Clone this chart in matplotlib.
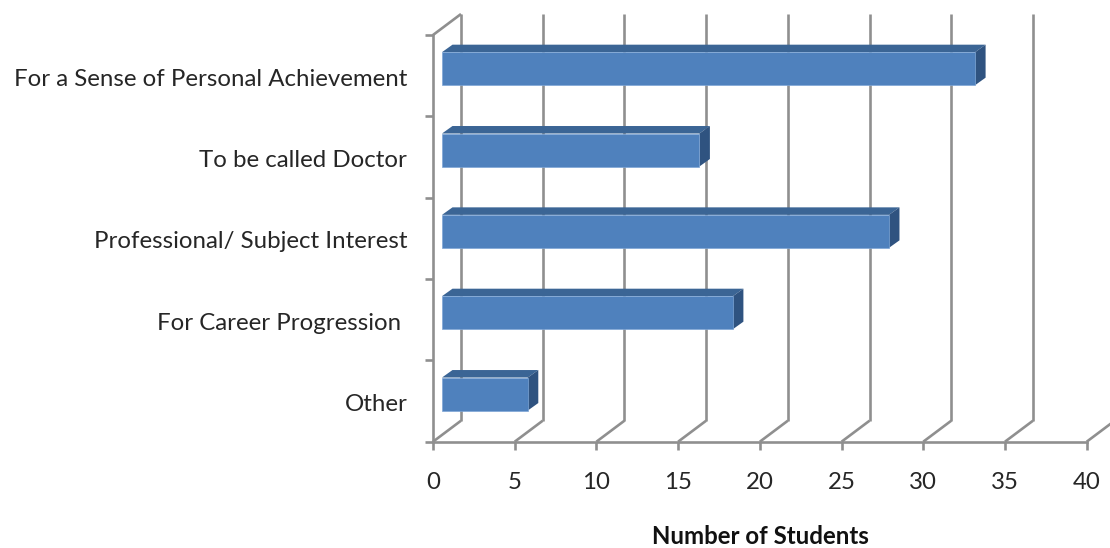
import matplotlib
matplotlib.use("Agg")
import matplotlib.pyplot as plt
from matplotlib.patches import Polygon
from matplotlib.transforms import ScaledTranslation

categories = ["Other", "For Career Progression ", "Professional/ Subject Interest",
              "To be called Doctor", "For a Sense of Personal Achievement"]
values = [5.25, 17.8, 27.35, 15.75, 32.62]
x_ticks = [0, 5, 10, 15, 20, 25, 30, 35, 40]
x_label = "Number of Students"

W, H = 1110, 548
X0, X1, Y0, Y1 = 433, 1086.7, 441.7, 35
GRAY = "#8f8f8f"
FRONT, TOP, SIDE = "#4f81bd", "#3b6595", "#2f5380"
FONT = "Lato"

fig = plt.figure(figsize=(W / 100, H / 100), dpi=100, facecolor="white")
ax = fig.add_axes([X0 / W, 1 - Y0 / H, (X1 - X0) / W, (Y0 - Y1) / H])
n = len(categories)
ax.set_xlim(0, 40)
ax.set_ylim(0, n)

# depth of the chart box and of the bars, in data units
dx = 28 / ((X1 - X0) / 40)
dy = 21 / ((Y0 - Y1) / n)
bx = 9 / ((X1 - X0) / 40)
by = 7 / ((Y0 - Y1) / n)
bdx = 10.5 / ((X1 - X0) / 40)
bdy = 7.5 / ((Y0 - Y1) / n)
bar_h = 33 / ((Y0 - Y1) / n)

lw = 1.9
line = dict(color=GRAY, lw=lw, clip_on=False, solid_capstyle="butt", zorder=1)
for t in x_ticks:
    ax.plot([t, t + dx], [0, dy], **line)
    if t < 40:
        ax.plot([t + dx, t + dx], [dy, n + dy], **line)
ax.plot([0, dx], [n, n + dy], **line)

pos = [i + 0.5 for i in range(n)]
for p, v in zip(pos, values):
    y0 = p - bar_h / 2 + by
    y1 = p + bar_h / 2 + by
    ax.barh(y0, v, height=bar_h, left=bx, align="edge", color=FRONT,
            edgecolor="#7ea6d6", linewidth=0.5, zorder=4, clip_on=False)
    ax.add_patch(Polygon([(bx, y1), (bx + bdx, y1 + bdy), (bx + v + bdx, y1 + bdy), (bx + v, y1)],
                         closed=True, fc=TOP, ec="none", zorder=3, clip_on=False))
    ax.add_patch(Polygon([(bx + v, y0), (bx + v + bdx, y0 + bdy), (bx + v + bdx, y1 + bdy), (bx + v, y1)],
                         closed=True, fc=SIDE, ec="none", zorder=3, clip_on=False))

for s in ("top", "right"):
    ax.spines[s].set_visible(False)
for s in ("left", "bottom"):
    ax.spines[s].set_color(GRAY)
    ax.spines[s].set_linewidth(lw)
ax.patch.set_alpha(0)

ax.set_xticks(x_ticks)
ax.set_xticklabels([str(t) for t in x_ticks], fontsize=17.3, family=FONT, color="#262626")
ax.tick_params(axis="x", length=6, width=lw, color=GRAY, pad=16)
ax.set_yticks(range(n + 1))
ax.set_yticklabels([""] * (n + 1))
ax.tick_params(axis="y", which="major", length=6, width=lw, color=GRAY)
ax.set_yticks(pos, minor=True)
ax.set_yticklabels(categories, minor=True, fontsize=17.3, family=FONT, color="#262626")
ax.tick_params(axis="y", which="minor", length=0, pad=18.5)
shift = ScaledTranslation(0, -1.5 / 100, fig.dpi_scale_trans)
for lab in ax.get_yticklabels(minor=True):
    lab.set_transform(lab.get_transform() + shift)

fig.text(760 / W, 1 - 537 / H, x_label, ha="center", va="center",
         fontsize=17.3, fontweight="bold", family=FONT, color="#111111")

fig.savefig("out.png", dpi=100)
